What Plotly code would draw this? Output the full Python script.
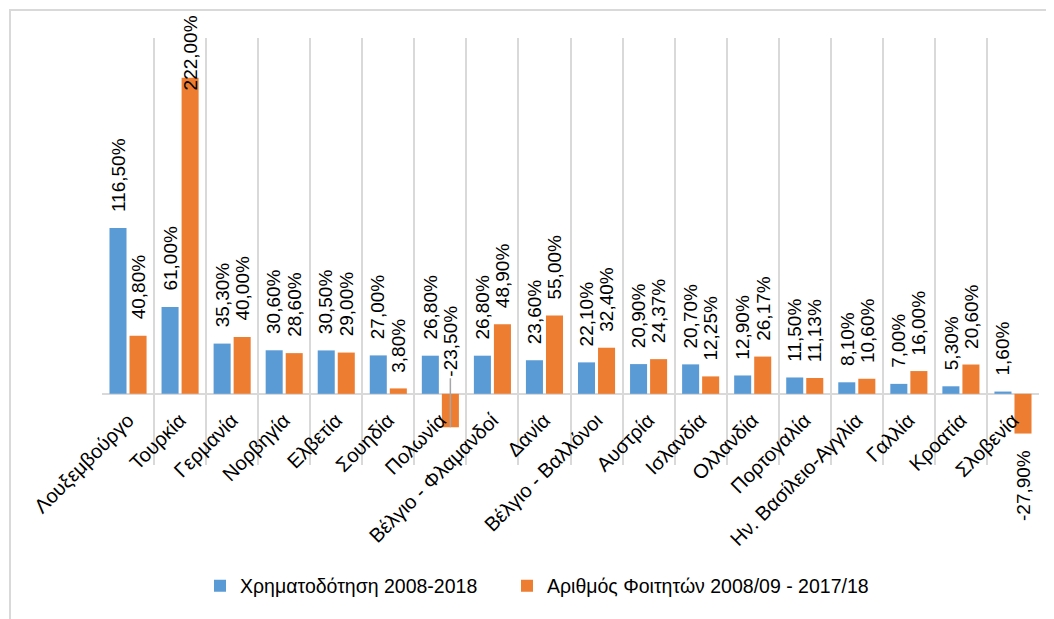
import plotly.graph_objects as go

categories = ["Λουξεμβούργο", "Τουρκία", "Γερμανία", "Νορβηγία", "Ελβετία", "Σουηδία",
              "Πολωνία", "Βέλγιο - Φλαμανδοί", "Δανία", "Βέλγιο - Βαλλόνοι", "Αυστρία",
              "Ισλανδία", "Ολλανδία", "Πορτογαλία", "Ην. Βασίλειο-Αγγλία", "Γαλλία",
              "Κροατία", "Σλοβενία"]
funding = [116.50, 61.00, 35.30, 30.60, 30.50, 27.00, 26.80, 26.80, 23.60, 22.10,
           20.90, 20.70, 12.90, 11.50, 8.10, 7.00, 5.30, 1.60]
students = [40.80, 222.00, 40.00, 28.60, 29.00, 3.80, -23.50, 48.90, 55.00, 32.40,
            24.37, 12.25, 26.17, 11.13, 10.60, 16.00, 20.60, -27.90]
series_names = ["Χρηματοδότηση 2008-2018", "Αριθμός Φοιτητών 2008/09 - 2017/18"]
colors = ["#5B9BD5", "#ED7D31"]

FONT = "Liberation Sans"
# page has an 8px body offset; figure is sized to fill the rest of the window
W, H = 1046, 611
L, R, T, B = 94, 15, 30, 154
pw, ph = W - L - R, H - T - B


def fmt(v):
    return f"{v:.2f}".replace(".", ",") + "%"


fig = go.Figure()
legend_ids = ["legend", "legend2"]
for name, vals, col, lg in zip(series_names, [funding, students], colors, legend_ids):
    fig.add_trace(go.Bar(x=categories, y=vals, name=name, marker_color=col,
                         marker_line_width=0, hoverinfo="skip", legend=lg))

annotations = []
offset = 10
leader_idx = 6      # Πολωνία label moved above the axis with a leader line
clamp_above = 200   # labels of taller bars are pulled inside the chart
for si, vals in enumerate([funding, students]):
    xs = -offset if si == 0 else offset
    for i, (c, v) in enumerate(zip(categories, vals)):
        base = dict(x=c, y=v, text=fmt(v), textangle=-90, xshift=xs,
                    font=dict(family=FONT, size=19, color="#000000"))
        if si == 1 and i == leader_idx:
            base.update(showarrow=True, arrowhead=0, arrowwidth=1.5,
                        arrowcolor="#A6A6A6", ax=0, ay=-86, standoff=0)
        elif v >= clamp_above:
            base.update(showarrow=False, yanchor="bottom", yshift=-15)
        elif v >= 0:
            base.update(showarrow=False, yanchor="bottom", yshift=14)
        else:
            base.update(showarrow=False, yanchor="top", yshift=-14)
        annotations.append(base)

# outer chart frame
fx0, fy0 = 2, 2
fig.add_shape(type="rect", xref="paper", yref="paper",
              x0=(fx0 - L) / pw, x1=(W + 20 - L) / pw,
              y0=(H - B - (H + 20)) / ph, y1=(H - B - fy0) / ph,
              line=dict(color="#D9D9D9", width=2), fillcolor="rgba(0,0,0,0)",
              layer="below")

zero_pos = 50 / 300
leg_font = dict(family=FONT, size=19.5, color="#000000")
leg_y = (H - B - 578) / ph

fig.update_layout(
    width=W, height=H,
    margin=dict(l=L, r=R, t=T, b=B, autoexpand=False),
    paper_bgcolor="white", plot_bgcolor="white",
    barmode="group", bargap=0.23, bargroupgap=0.15,
    font=dict(family=FONT, size=19, color="#000000"),
    annotations=annotations,
    showlegend=True,
    legend=dict(orientation="h", x=(192 - L) / pw, xanchor="left",
                y=leg_y, yanchor="middle", font=leg_font, itemwidth=30),
    legend2=dict(orientation="h", x=(499 - L) / pw, xanchor="left",
                 y=leg_y, yanchor="middle", font=leg_font, itemwidth=30),
    xaxis=dict(type="category", tickson="boundaries", showgrid=True,
               gridcolor="#D9D9D9", gridwidth=2, ticks="", tickangle=-45,
               anchor="free", position=zero_pos, showline=False,
               ticklabelstandoff=10,
               tickfont=dict(family=FONT, size=20, color="#000000")),
    yaxis=dict(range=[-50, 250], showgrid=False, showticklabels=False,
               zeroline=True, zerolinecolor="#D9D9D9", zerolinewidth=2,
               ticks=""),
)

fig.write_html("out.html")
